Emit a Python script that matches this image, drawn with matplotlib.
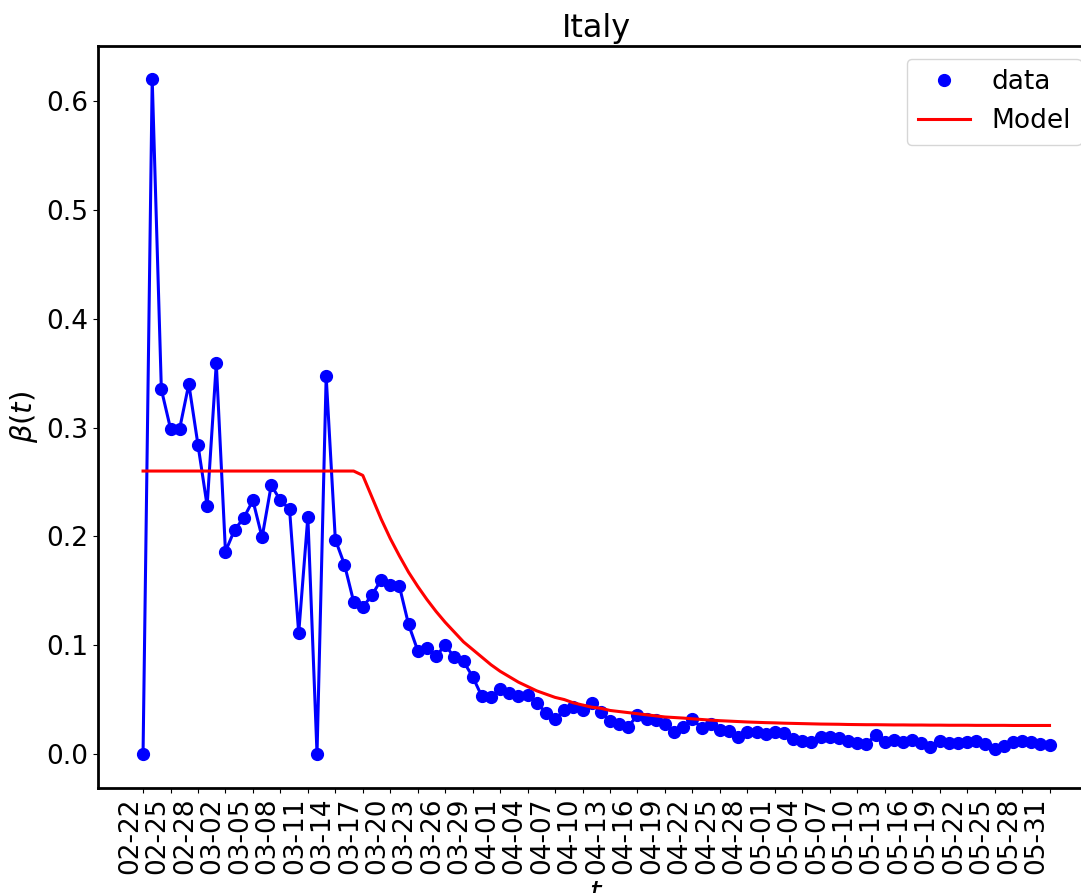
#!/usr/bin/env python3
"""Italy: daily transmission rate beta(t) with a fitted piecewise model."""

import matplotlib

matplotlib.use("Agg")
import matplotlib.pyplot as plt

# one observation per day, 02-22 .. 05-31 (100 days)
beta_data = [
    0.000, 0.620, 0.335, 0.299, 0.299, 0.340, 0.284, 0.228, 0.359, 0.186,
    0.206, 0.217, 0.233, 0.199, 0.247, 0.233, 0.225, 0.111, 0.218, 0.000,
    0.347, 0.197, 0.174, 0.140, 0.135, 0.146, 0.160, 0.155, 0.154, 0.119,
    0.095, 0.097, 0.090, 0.100, 0.089, 0.085, 0.071, 0.053, 0.052, 0.060,
    0.056, 0.053, 0.054, 0.047, 0.038, 0.032, 0.040, 0.043, 0.040, 0.047,
    0.039, 0.030, 0.028, 0.025, 0.036, 0.032, 0.031, 0.028, 0.020, 0.025,
    0.032, 0.024, 0.028, 0.022, 0.021, 0.016, 0.020, 0.020, 0.018, 0.020,
    0.019, 0.014, 0.012, 0.011, 0.016, 0.016, 0.015, 0.012, 0.010, 0.009,
    0.0175, 0.011, 0.013, 0.011, 0.013, 0.010, 0.006, 0.012, 0.010, 0.010,
    0.011, 0.012, 0.009, 0.005, 0.007, 0.011, 0.012, 0.011, 0.009, 0.008,
]

beta_model = [
    0.260, 0.260, 0.260, 0.260, 0.260, 0.260, 0.260, 0.260, 0.260, 0.260,
    0.260, 0.260, 0.260, 0.260, 0.260, 0.260, 0.260, 0.260, 0.260, 0.260,
    0.260, 0.260, 0.260, 0.260, 0.256, 0.236, 0.216, 0.198, 0.182, 0.167,
    0.154, 0.142, 0.131, 0.121, 0.112, 0.103, 0.096, 0.089, 0.082, 0.076,
    0.071, 0.066, 0.062, 0.058, 0.055, 0.052, 0.050, 0.047, 0.045, 0.043,
    0.042, 0.040, 0.039, 0.038, 0.037, 0.036, 0.035, 0.034, 0.0335, 0.033,
    0.0323, 0.0317, 0.0311, 0.0306, 0.0302, 0.0298, 0.0294, 0.0291, 0.0288, 0.0286,
    0.0283, 0.0281, 0.0279, 0.0277, 0.0275, 0.0274, 0.0273, 0.0271, 0.0270, 0.0269,
    0.0269, 0.0268, 0.0267, 0.0267, 0.0266, 0.0266, 0.0265, 0.0265, 0.0264, 0.0264,
    0.0264, 0.0263, 0.0263, 0.0263, 0.0263, 0.0262, 0.0262, 0.0262, 0.0262, 0.0262,
]

tick_labels = [
    "02-22", "02-25", "02-28", "03-02", "03-05", "03-08", "03-11", "03-14",
    "03-17", "03-20", "03-23", "03-26", "03-29", "04-01", "04-04", "04-07",
    "04-10", "04-13", "04-16", "04-19", "04-22", "04-25", "04-28", "05-01",
    "05-04", "05-07", "05-10", "05-13", "05-16", "05-19", "05-22", "05-25",
    "05-28", "05-31",
]


def main() -> int:
    plt.rcParams.update({"font.family": "DejaVu Sans", "font.size": 19})

    fig = plt.figure(figsize=(10.81, 8.93), dpi=100)
    fig.set_facecolor("white")
    # the original image is cropped on the right, so the axes run past the edge
    ax = fig.add_axes([0.0904, 0.1179, 0.9224, 0.8311])

    days = list(range(len(beta_data)))
    ax.plot(days, beta_data, "bo", markersize=8.5, label="data")
    ax.plot(days, beta_data, "b-", linewidth=2.2)
    ax.plot(days, beta_model, "r-", linewidth=2.2, label="Model")

    ax.set_xticks(days[::3])
    ax.set_xticklabels(tick_labels, rotation=90, ha="right")
    ax.tick_params(labelsize=19)
    for spine in ax.spines.values():
        spine.set_linewidth(2)

    ax.set_title("Italy", fontsize=23)
    ax.set_xlabel("$t$", fontsize=21)
    ax.set_ylabel(r"$\beta(t)$", fontsize=21)
    ax.legend(loc="upper right", fontsize=19)

    fig.savefig("out.png", dpi=100)
    plt.close(fig)
    return 0


if __name__ == "__main__":
    raise SystemExit(main())
